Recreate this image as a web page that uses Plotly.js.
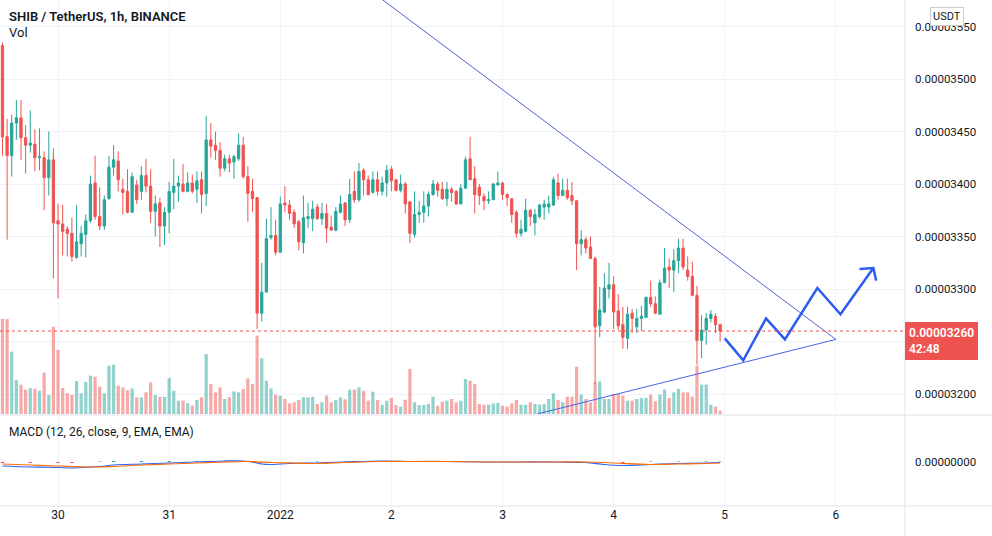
<!DOCTYPE html>
<html><head><meta charset="utf-8">
<script src="https://cdn.plot.ly/plotly-3.0.1.min.js"></script>
<style>html,body{margin:0;padding:0;background:#fff}#chart{width:992px;height:536px}</style>
</head><body><div id="chart"></div>
<script>
// Prices in units of 1e-8 USDT, hourly candles starting 2021-12-29 12:00
const openP = [
3532,3445,3427,3458,3463,3444,3437,3438,3425,3425,3406,3423,3365,3362,3357,3353,3330,3343,3352,3365,3401,3369,3360,3386,3416,3422,
3395,3393,3373,3399,3393,3408,3398,3374,3382,3360,3373,3392,3398,3400,3393,3401,3395,3404,3391,3442,3437,3432,3415,3424,3421,3424,
3437,3407,3393,3387,3277,3297,3349,3351,3335,3382,3380,3373,3364,3344,3367,3367,3378,3367,3372,3359,3356,3373,3382,3366,3393,3385,
3413,3404,3392,3404,3393,3401,3414,3404,3394,3400,3383,3352,3371,3373,3379,3390,3400,3395,3386,3395,3393,3381,3396,3424,3405,3397,
3388,3384,3385,3399,3401,3390,3386,3373,3353,3355,3375,3363,3369,3378,3378,3380,3401,3389,3394,3389,3384,3343,3347,3340,3329,3265,
3278,3300,3304,3279,3266,3253,3277,3264,3272,3273,3292,3286,3276,3306,3321,3318,3327,3339,3318,3312,3294,3251,3261,3272,3274,3266];
const highP = [
3535,3462,3466,3480,3480,3456,3470,3452,3453,3431,3450,3434,3381,3380,3360,3368,3380,3360,3371,3408,3427,3397,3389,3427,3437,3431,
3405,3414,3411,3404,3417,3424,3414,3389,3387,3378,3402,3424,3408,3419,3411,3409,3412,3412,3465,3458,3450,3440,3428,3428,3428,3448,
3445,3417,3405,3387,3325,3367,3378,3366,3388,3398,3385,3376,3366,3389,3382,3384,3381,3382,3381,3370,3378,3389,3383,3405,3412,3420,
3415,3408,3412,3412,3407,3418,3417,3405,3409,3402,3384,3393,3384,3393,3393,3404,3402,3402,3402,3397,3394,3400,3426,3445,3417,3400,
3391,3393,3401,3412,3402,3391,3386,3375,3366,3386,3376,3376,3381,3385,3389,3407,3410,3405,3405,3402,3385,3356,3350,3350,3331,3302,
3315,3325,3312,3295,3283,3283,3281,3281,3284,3293,3308,3293,3309,3339,3329,3338,3348,3348,3331,3326,3303,3275,3277,3280,3277,3267];
const lowP = [
3427,3347,3407,3442,3423,3410,3430,3412,3413,3375,3389,3310,3291,3332,3331,3326,3329,3331,3330,3363,3366,3356,3356,3385,3408,3393,
3371,3372,3373,3381,3385,3392,3363,3350,3340,3342,3353,3376,3383,3392,3392,3391,3382,3372,3379,3425,3423,3407,3412,3411,3405,3422,
3405,3364,3373,3262,3269,3297,3347,3332,3335,3373,3366,3358,3337,3334,3358,3355,3366,3361,3344,3356,3355,3372,3360,3363,3382,3383,
3389,3389,3391,3389,3389,3388,3393,3393,3392,3372,3344,3349,3363,3363,3369,3389,3388,3385,3379,3383,3380,3381,3396,3404,3372,3380,
3375,3381,3385,3399,3385,3379,3363,3349,3350,3354,3360,3351,3367,3366,3372,3379,3385,3389,3385,3380,3318,3332,3334,3329,3209,3254,
3277,3291,3262,3261,3243,3243,3258,3258,3260,3273,3283,3276,3276,3306,3301,3297,3315,3318,3308,3293,3228,3234,3247,3268,3258,3250];
const closeP = [
3445,3427,3458,3463,3444,3437,3439,3425,3426,3406,3423,3363,3362,3355,3353,3331,3345,3353,3365,3400,3369,3360,3385,3416,3423,3404,
3392,3373,3407,3385,3408,3398,3374,3381,3360,3373,3393,3398,3401,3393,3401,3393,3403,3390,3442,3436,3432,3415,3424,3420,3426,3437,
3407,3391,3386,3277,3297,3348,3351,3335,3381,3380,3372,3362,3345,3368,3369,3376,3367,3372,3358,3356,3374,3381,3366,3390,3385,3412,
3404,3390,3404,3393,3401,3413,3403,3394,3400,3381,3353,3371,3373,3379,3390,3400,3394,3386,3395,3392,3381,3396,3423,3404,3390,3389,
3384,3385,3400,3401,3390,3387,3371,3353,3357,3375,3369,3371,3380,3381,3381,3404,3389,3394,3387,3384,3343,3347,3339,3329,3264,3280,
3301,3304,3278,3265,3254,3276,3272,3272,3274,3292,3286,3277,3306,3320,3318,3327,3339,3321,3312,3294,3251,3261,3272,3276,3266,3260];
// volume (arbitrary units, billions SHIB)
const volume = [
285,285,187,102,88,73,78,76,70,124,57,262,192,78,62,58,99,62,96,115,112,82,62,145,148,85,
80,72,77,50,50,65,95,57,52,52,108,70,40,40,32,25,42,50,180,90,65,80,45,50,68,65,
75,107,90,235,167,100,77,58,55,45,32,35,42,50,50,52,30,35,55,35,42,50,44,73,73,80,
70,40,67,42,27,40,48,27,22,43,135,35,27,27,30,52,25,37,40,45,35,40,105,100,90,30,
28,28,32,33,25,22,32,42,28,28,35,30,28,30,45,62,42,35,52,52,142,58,45,35,95,98,
45,45,60,60,55,40,40,45,48,48,58,38,58,73,48,65,75,65,65,52,145,88,88,28,22,10];

// MACD pane (units 1e-8), sampled
const macdTimes = ['2021-12-29 12:00','2021-12-29 18:00','2021-12-30 00:00','2021-12-30 03:00','2021-12-30 09:00','2021-12-30 12:00','2021-12-30 18:00','2021-12-31 00:00','2021-12-31 06:00','2021-12-31 12:00','2021-12-31 16:00','2021-12-31 18:00','2021-12-31 20:00','2021-12-31 22:00','2022-01-01 02:00','2022-01-01 08:00','2022-01-01 14:00','2022-01-01 22:00','2022-01-02 04:00','2022-01-02 12:00','2022-01-02 20:00','2022-01-03 04:00','2022-01-03 12:00','2022-01-03 18:00','2022-01-03 22:00','2022-01-04 02:00','2022-01-04 08:00','2022-01-04 14:00','2022-01-04 20:00','2022-01-04 23:00'];
const macdLine = [-8,-10,-11,-12,-9,-6,-4,-2,0,2,2,0,-4,-5,-3,-2,0,2,1,1,0,0,0,-1,-5,-7,-5,-3,-2,-1];
const signalLine = [-4,-6,-8,-9,-10,-9,-6,-4,-2,0,1,1,0,-1,-2,-3,-1,1,1,1,0,0,0,0,-1,-3,-5,-4,-3,-2];
const macdHist = [-2,-2,-2,-2,1,2,2,2,2,2,1,-1,-2,-2,-1,1,1,1,0,0,0,0,0,-1,-2,-2,1,1,1,1];

// Drawings (time, price 1e-8)
const descTimes = ['2022-01-01 18:00','2022-01-06 00:00'];
const descPrices = [3589, 3252];
const ascTimes = ['2022-01-03 07:30','2022-01-06 00:00'];
const ascPrices = [3181, 3252];
const zigTimes = ['2022-01-05 00:00','2022-01-05 04:00','2022-01-05 08:55','2022-01-05 13:00','2022-01-05 20:00','2022-01-06 01:00','2022-01-06 08:06'];
const zigPrices = [3253, 3232, 3272, 3252, 3301, 3276, 3320];
const headTimes = ['2022-01-06 05:06','2022-01-06 08:06','2022-01-06 08:42'];
const headPrices = [3319, 3320, 3308];

const priceTicks = [3200,3250,3300,3350,3400,3450,3500,3550];
// 0.00003250 sits under the last-price badge in the reference, so its label is not shown
const priceTickText = ['0.00003200','','0.00003300','0.00003350','0.00003400','0.00003450','0.00003500','0.00003550'];
const dayTicks = ['2021-12-30','2021-12-31','2022-01-01','2022-01-02','2022-01-03','2022-01-04','2022-01-05','2022-01-06'];
const dayLabels = ['30','31','2022','2','3','4','5','6'];
const lastPrice = closeP[closeP.length-1];

function hourStr(i){
  const d = new Date(Date.UTC(2021,11,29,12) + i*3600000);
  return d.toISOString().slice(0,16).replace('T',' ');
}
const times = openP.map((_, i) => hourStr(i));
const GREEN = '#26a69a', RED = '#ef5350';
const volColors = openP.map((o, i) => closeP[i] >= o ? 'rgba(38,166,154,0.5)' : 'rgba(239,83,80,0.5)');
const histColors = macdHist.map(v => v >= 0 ? '#26a69a' : '#ef5350');

const FONT = 'Roboto, "Open Sans", sans-serif';
const traces = [
  {type:'bar', x: times, y: volume, xaxis:'x', yaxis:'y', marker:{color: volColors, line:{width:0}}, hoverinfo:'skip'},
  {type:'candlestick', x: times, open: openP, high: highP, low: lowP, close: closeP, xaxis:'x', yaxis:'y3',
   whiskerwidth: 0,
   increasing:{line:{color:GREEN, width:1}, fillcolor:GREEN},
   decreasing:{line:{color:RED, width:1}, fillcolor:RED}, hoverinfo:'skip'},
  {type:'scatter', mode:'lines', x: descTimes, y: descPrices, xaxis:'x', yaxis:'y3', line:{color:'#4a63e6', width:1}, hoverinfo:'skip'},
  {type:'scatter', mode:'lines', x: ascTimes, y: ascPrices, xaxis:'x', yaxis:'y3', line:{color:'#4a63e6', width:1}, hoverinfo:'skip'},
  {type:'scatter', mode:'lines', x: zigTimes, y: zigPrices, xaxis:'x', yaxis:'y3', line:{color:'#2d5bf0', width:2.5}, hoverinfo:'skip'},
  {type:'scatter', mode:'lines', x: headTimes, y: headPrices, xaxis:'x', yaxis:'y3', line:{color:'#2d5bf0', width:2.5}, hoverinfo:'skip'},
  {type:'bar', x: macdTimes, y: macdHist, xaxis:'x', yaxis:'y2', width: 3600000*0.7, marker:{color: histColors}, hoverinfo:'skip'},
  {type:'scatter', mode:'lines', x: macdTimes, y: macdLine, xaxis:'x', yaxis:'y2', line:{color:'#2962ff', width:1.2, shape:'spline'}, hoverinfo:'skip'},
  {type:'scatter', mode:'lines', x: macdTimes, y: signalLine, xaxis:'x', yaxis:'y2', line:{color:'#ff6d00', width:1.2, shape:'spline'}, hoverinfo:'skip'}
];

const AX = '#131722';
const layout = {
  width: 992, height: 536,
  margin: {l:0, r:87, t:0, b:30},
  paper_bgcolor:'#ffffff', plot_bgcolor:'#ffffff',
  showlegend:false, bargap:0.3,
  font:{family: FONT, color: AX, size: 12},
  xaxis: {type:'date', anchor:'y2', range:['2021-12-29 11:28','2022-01-06 14:56'],
    tickvals: dayTicks, ticktext: dayLabels, ticks:'', showgrid:true, gridcolor:'#f0f3fa',
    zeroline:false, showline:false, rangeslider:{visible:false}, tickfont:{size:12, color:AX}},
  yaxis: {domain:[0.1818, 1], range:[0, 1242], visible:false, fixedrange:true},
  yaxis3: {overlaying:'y', side:'right', range:[3180.95, 3575.24],
    tickvals: priceTicks, ticktext: priceTickText,
    showgrid:true, gridcolor:'#f0f3fa', zeroline:false, ticks:'', ticklabelstandoff:9,
    tickfont:{size:11.5, color:AX}},
  yaxis2: {domain:[0, 0.1779], range:[-88, 92], side:'right', tickvals:[0], ticktext:['0.00000000'],
    showgrid:false, zeroline:false, ticks:'', ticklabelstandoff:9, tickfont:{size:11.5, color:AX}},
  shapes: [
    {type:'line', xref:'paper', yref:'y3', x0:0, x1:1, y0:lastPrice, y1:lastPrice, line:{color:RED, width:1, dash:'dot'}},
    {type:'line', xref:'paper', yref:'paper', x0:1, x1:1, y0:-0.06, y1:1, line:{color:'#e0e3eb', width:1}},
    {type:'line', xref:'paper', yref:'paper', x0:0, x1:1.1, y0:0.1798, y1:0.1798, line:{color:'#e0e3eb', width:1}},
    {type:'line', xref:'paper', yref:'paper', x0:0, x1:1.1, y0:0, y1:0, line:{color:'#e0e3eb', width:1}}
  ],
  annotations: [
    {xref:'paper', yref:'paper', x:0.0077, y:0.9674, xanchor:'left', yanchor:'middle', showarrow:false,
     text:'SHIB / TetherUS, 1h, BINANCE', font:{size:13, color:AX, weight:600}},
    {xref:'paper', yref:'paper', x:0.0077, y:0.9348, xanchor:'left', yanchor:'middle', showarrow:false,
     text:'Vol', font:{size:13, color:AX}},
    {xref:'paper', yref:'paper', x:0.0077, y:0.1462, xanchor:'left', yanchor:'middle', showarrow:false,
     text:'MACD (12, 26, close, 9, EMA, EMA)', font:{size:12, color:AX}},
    {xref:'paper', yref:'paper', x:1.0464, y:0.968, xanchor:'center', yanchor:'middle', showarrow:false,
     text:'USDT', font:{size:11, color:AX}, bgcolor:'#ffffff', bordercolor:'#c9ccd4', borderwidth:1, borderpad:2},
    {xref:'paper', yref:'y3', x:1, y:lastPrice, xanchor:'left', yanchor:'top', yshift:9.5, showarrow:false, align:'left',
     text:(lastPrice*1e-8).toFixed(8) + '<br>42:48', font:{size:12, color:'#ffffff', weight:600},
     bgcolor:RED, borderpad:3, bordercolor:RED, borderwidth:1}
  ]
};
Plotly.newPlot('chart', traces, layout, {staticPlot:true, displayModeBar:false});
</script>
</body></html>
